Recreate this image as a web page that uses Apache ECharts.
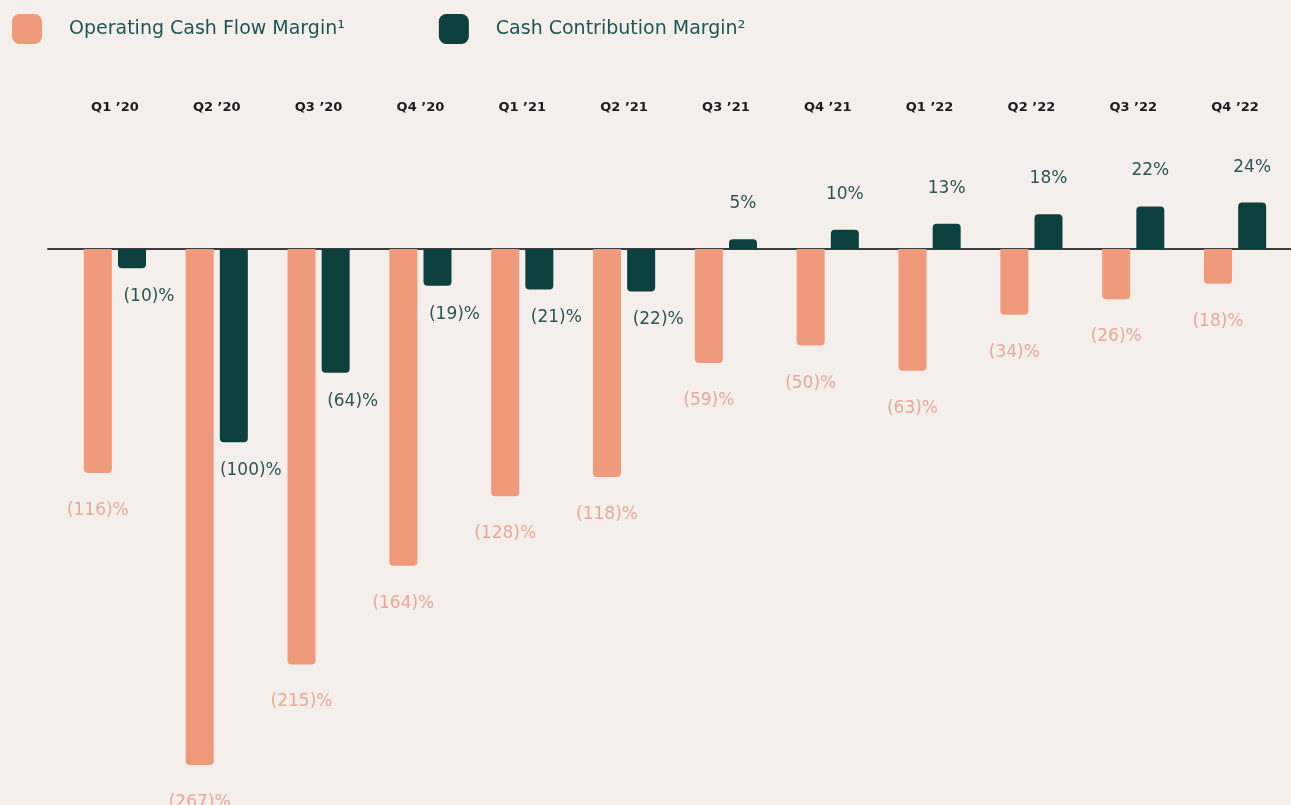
<!DOCTYPE html>
<html>
<head>
<meta charset="utf-8">
<script src="https://cdn.jsdelivr.net/npm/echarts@6/dist/echarts.min.js"></script>
<style>
  html, body { margin: 0; padding: 0; background: #f4efeb; }
  #chart { width: 1291px; height: 805px; }
</style>
</head>
<body>
<div id="chart"></div>
<script>
// quarters shown across the top
const quarters = ["Q1 \u201920", "Q2 \u201920", "Q3 \u201920", "Q4 \u201920",
  "Q1 \u201921", "Q2 \u201921", "Q3 \u201921", "Q4 \u201921",
  "Q1 \u201922", "Q2 \u201922", "Q3 \u201922", "Q4 \u201922"]
// margins in %
const operatingCashFlow = [-116, -267, -215, -164, -128, -118, -59, -50, -63, -34, -26, -18]
const cashContribution = [-10, -100, -64, -19, -21, -22, 5, 10, 13, 18, 22, 24]

const ORANGE = '#ef9a7b'
const TEAL = '#0b403f'
const FONT = '"DejaVu Sans", sans-serif'

const fmt = v => v < 0 ? '(' + Math.abs(v) + ')%' : v + '%'

const toItems = (arr, negLabel, posLabel) => arr.map(v => ({
  value: v,
  itemStyle: { borderRadius: v < 0 ? [0, 0, 4, 4] : [4, 4, 0, 0] },
  label: v < 0 ? negLabel : posLabel
}))

const chart = echarts.init(document.getElementById('chart'))

const option = {
  backgroundColor: '#f4efeb',
  animation: false,
  legend: {
    left: 7,
    top: 9,
    itemWidth: 30,
    itemHeight: 30,
    itemGap: 94,
    icon: 'roundRect',
    textStyle: {
      fontFamily: FONT,
      fontSize: 19,
      color: '#1e5752',
      padding: [2, 0, 0, 22]
    },
    data: ['Operating Cash Flow Margin\u00b9', 'Cash Contribution Margin\u00b2']
  },
  grid: [
    { left: 64, right: 5, top: 191, height: 599 },
    { left: 48, right: 0, top: 191, height: 599 }
  ],
  xAxis: [
    {
      type: 'category',
      data: quarters,
      position: 'top',
      gridIndex: 0,
      axisLine: { show: false, onZero: false },
      axisTick: { show: false },
      axisLabel: {
        margin: 77,
        fontFamily: FONT,
        fontSize: 13,
        fontWeight: 'bold',
        color: '#1c1c1c'
      }
    },
    {
      type: 'category',
      data: quarters,
      gridIndex: 1,
      axisLine: { show: true, onZero: true, lineStyle: { color: '#3d3d3d', width: 2 } },
      axisTick: { show: false },
      axisLabel: { show: false }
    }
  ],
  yAxis: [
    { type: 'value', min: -280, max: 30, gridIndex: 0, show: false },
    { type: 'value', min: -280, max: 30, gridIndex: 1, show: false }
  ],
  series: [
    {
      name: 'Operating Cash Flow Margin\u00b9',
      type: 'bar',
      barWidth: 28,
      barGap: '22%',
      itemStyle: { color: ORANGE },
      label: {
        show: true,
        formatter: p => fmt(p.value),
        fontFamily: FONT,
        fontSize: 17,
        color: '#e6a996'
      },
      data: toItems(operatingCashFlow,
        { position: 'bottom', distance: 29 },
        { position: 'top', distance: 29 })
    },
    {
      name: 'Cash Contribution Margin\u00b2',
      type: 'bar',
      barWidth: 28,
      itemStyle: { color: TEAL },
      label: {
        show: true,
        formatter: p => fmt(p.value),
        fontFamily: FONT,
        fontSize: 17,
        color: '#2f5556'
      },
      data: toItems(cashContribution,
        { position: 'bottom', distance: 20, offset: [17, 0] },
        { position: 'top', distance: 27 })
    }
  ]
}

chart.setOption(option)
</script>
</body>
</html>
